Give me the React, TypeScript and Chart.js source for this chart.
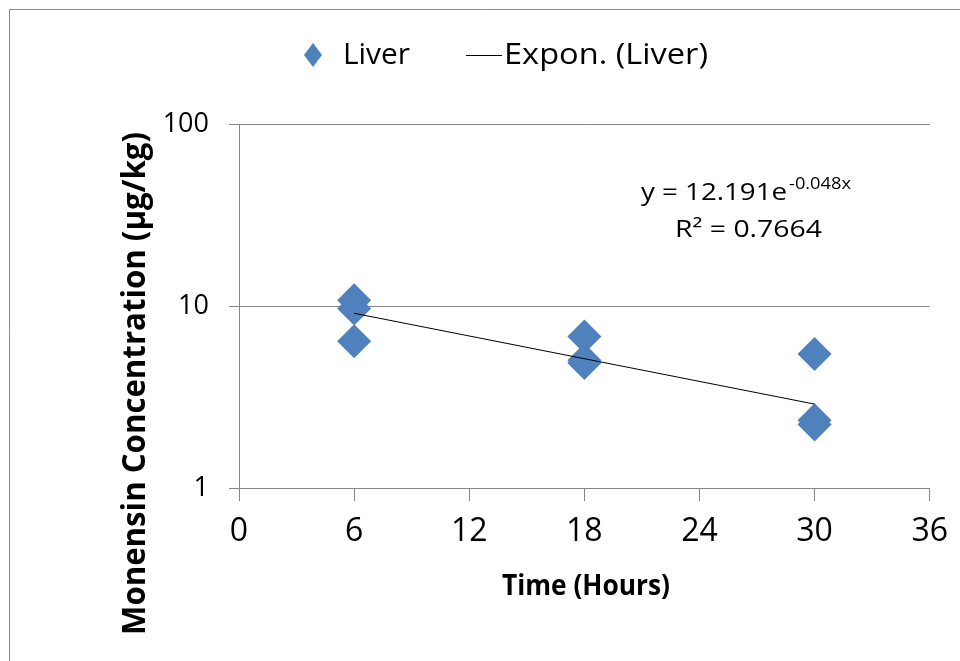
import React, { useEffect, useRef } from "react";
import { Chart, registerables } from "chart.js";

Chart.register(...registerables);

// ---- data ----
const timeHours = [6, 6, 6, 18, 18, 18, 30, 30, 30];
const liverValues = [10.75, 9.7, 6.4, 6.8, 5.03, 4.86, 5.45, 2.36, 2.23];
const trendTimes = [6, 30];
const trendValues = [9.12, 2.89];
const xTicks = [0, 6, 12, 18, 24, 30, 36];
const yTicks = [1, 10, 100];
const seriesName = "Liver";
const trendName = "Expon. (Liver)";
const xTitle = "Time (Hours)";
const yTitle = "Monensin Concentration (µg/kg)";
const eqMain = "y = 12.191e";
const eqSup = "-0.048x";
const eqR2 = "R² = 0.7664";

const BLUE = "#4F81BD";
const GRID = "#868686";
const FONT = "'Open Sans', 'DejaVu Sans', sans-serif";

function fitText(ctx: CanvasRenderingContext2D, text: string, x: number, y: number, width: number) {
  const w = ctx.measureText(text).width;
  ctx.save();
  ctx.translate(x, y);
  ctx.scale(width / w, 1);
  ctx.textAlign = "left";
  ctx.fillText(text, 0, 0);
  ctx.restore();
}

const overlay = {
  id: "overlay",
  afterDraw(chart: any) {
    const ctx: CanvasRenderingContext2D = chart.ctx;
    ctx.save();
    // outer frame
    ctx.strokeStyle = "#8a8a8a";
    ctx.lineWidth = 1;
    ctx.beginPath();
    ctx.moveTo(9.5, 661);
    ctx.lineTo(9.5, 9.5);
    ctx.lineTo(960, 9.5);
    ctx.stroke();

    ctx.fillStyle = "#000";
    // legend
    const ly = 55;
    ctx.fillStyle = BLUE;
    ctx.beginPath();
    ctx.moveTo(313, ly - 12);
    ctx.lineTo(322, ly);
    ctx.lineTo(313, ly + 12);
    ctx.lineTo(304, ly);
    ctx.closePath();
    ctx.fill();
    ctx.fillStyle = "#000";
    ctx.font = `30px ${FONT}`;
    ctx.textBaseline = "middle";
    fitText(ctx, seriesName, 343, ly, 67);
    ctx.strokeStyle = "#000";
    ctx.beginPath();
    ctx.moveTo(466, ly + 0.5);
    ctx.lineTo(502, ly + 0.5);
    ctx.stroke();
    fitText(ctx, trendName, 504, ly, 204);

    // equation
    ctx.textBaseline = "alphabetic";
    ctx.font = `24px ${FONT}`;
    fitText(ctx, eqMain, 641, 200, 146);
    ctx.font = `16px ${FONT}`;
    fitText(ctx, eqSup, 789, 189, 62);
    ctx.font = `24px ${FONT}`;
    fitText(ctx, eqR2, 675, 237, 147);

    // x title
    ctx.font = `bold 28px ${FONT}`;
    fitText(ctx, xTitle, 502, 595, 168);

    // y title
    ctx.save();
    ctx.translate(145, 635);
    ctx.rotate(-Math.PI / 2);
    ctx.font = `bold 33px ${FONT}`;
    fitText(ctx, yTitle, 0, 0, 503);
    ctx.restore();

    ctx.restore();
  },
};

export default function App() {
  const ref = useRef<HTMLCanvasElement>(null);
  useEffect(() => {
    const canvas = ref.current!;
    const chart = new Chart(canvas, {
      type: "scatter",
      data: {
        datasets: [
          {
            label: seriesName,
            data: timeHours.map((t, i) => ({ x: t, y: liverValues[i] })),
            pointStyle: "rectRot",
            pointRadius: 17,
            pointHoverRadius: 17,
            backgroundColor: BLUE,
            borderColor: BLUE,
            borderWidth: 0,
            order: 2,
          },
          {
            type: "line",
            label: trendName,
            data: trendTimes.map((t, i) => ({ x: t, y: trendValues[i] })),
            borderColor: "#000",
            borderWidth: 1,
            pointRadius: 0,
            showLine: true,
            fill: false,
            order: 1,
          } as any,
        ],
      },
      options: {
        responsive: false,
        animation: false,
        events: [],
        layout: { padding: { left: 0, right: 29, top: 124, bottom: 0 } },
        plugins: {
          legend: { display: false },
          tooltip: { enabled: false },
          title: { display: false },
        },
        scales: {
          x: {
            type: "linear",
            min: 0,
            max: 36,
            afterBuildTicks: (s: any) => {
              s.ticks = xTicks.map((v) => ({ value: v }));
            },
            afterFit: (s: any) => {
              s.height = 173;
            },
            grid: {
              drawOnChartArea: false,
              drawTicks: true,
              tickLength: 13,
              color: GRID,
            },
            border: { color: GRID, width: 1 },
            ticks: {
              color: "#000",
              font: { family: FONT, size: 32 },
              padding: 12,
              maxRotation: 0,
              autoSkip: false,
            },
          },
          y: {
            type: "logarithmic",
            min: 1,
            max: 100,
            afterBuildTicks: (s: any) => {
              s.ticks = yTicks.map((v) => ({ value: v }));
            },
            afterFit: (s: any) => {
              s.width = 239;
            },
            grid: {
              drawOnChartArea: true,
              drawTicks: true,
              tickLength: 10,
              color: GRID,
            },
            border: { color: GRID, width: 1 },
            ticks: {
              color: "#000",
              font: { family: FONT, size: 27 },
              padding: 20,
              callback: (v: any) => String(v),
              autoSkip: false,
            },
          },
        },
      },
      plugins: [overlay],
    });
    return () => chart.destroy();
  }, []);
  return (
    <div style={{ position: "fixed", left: 0, top: 0, width: 960, height: 661, background: "#fff" }}>
      <canvas ref={ref} width={960} height={661} style={{ display: "block" }} />
    </div>
  );
}
